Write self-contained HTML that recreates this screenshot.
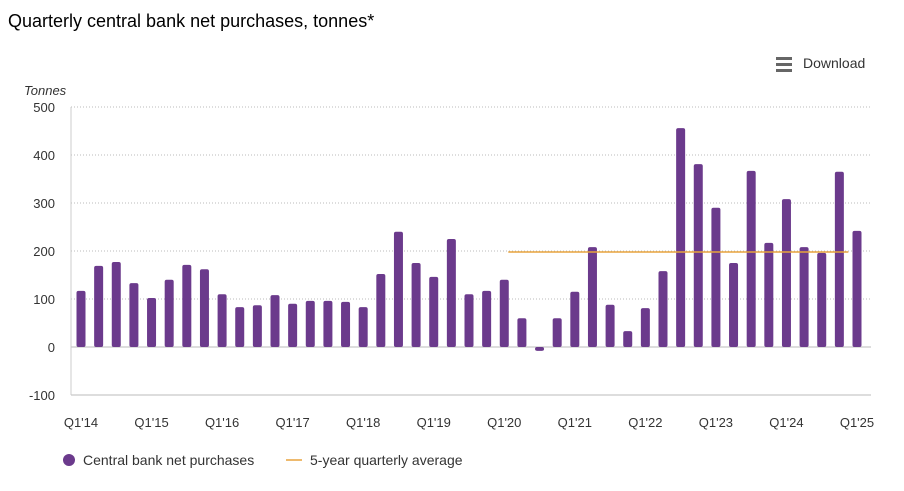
<!DOCTYPE html>
<html><head><meta charset="utf-8"><style>
body{margin:0;background:#fff;font-family:"Liberation Sans",Arial,sans-serif;}
svg text{font-family:"Liberation Sans",Arial,sans-serif;}
</style></head><body>
<svg id="chart" width="904" height="486">
<text x="8" y="27" font-size="18" fill="#000">Quarterly central bank net purchases, tonnes*</text>
<g>
<rect x="776" y="57" width="16" height="3" fill="#666"/><rect x="776" y="63" width="16" height="3" fill="#666"/><rect x="776" y="69" width="16" height="3" fill="#666"/>
<text x="803" y="68" font-size="14" fill="#333">Download</text></g>
<text x="24" y="95" font-size="13" font-style="italic" fill="#333">Tonnes</text>
<g id="grid"></g><g id="bars"></g><g id="avg"></g><g id="xlab"></g>
<g>
<circle cx="69" cy="460" r="6" fill="#6b3a8c"/>
<text x="83" y="465" font-size="14" fill="#333">Central bank net purchases</text>
<line x1="286" y1="460" x2="302" y2="460" stroke="#e8a33d" stroke-width="1.5"/>
<text x="310" y="465" font-size="14" fill="#333">5-year quarterly average</text>
</g>
</svg>
<script>
const values=[117,169,177,133,102,140,171,162,110,83,87,108,90,96,96,94,83,152,240,175,146,225,110,117,140,60,-8,60,115,208,88,33,81,158,456,381,290,175,367,217,308,208,196,365,242];
const yTicks=[-100,0,100,200,300,400,500];
const xLabels=["Q1'14","Q1'15","Q1'16","Q1'17","Q1'18","Q1'19","Q1'20","Q1'21","Q1'22","Q1'23","Q1'24","Q1'25"];
const avgValue=198;
const avgStart=24, avgEnd=43;
const NS="http://www.w3.org/2000/svg";
const y=v=>347-v*0.48;
const x=i=>81+i*(857-81)/44;
function mk(t,a,p){const e=document.createElementNS(NS,t);for(const k in a)e.setAttribute(k,a[k]);p.appendChild(e);return e;}
const grid=document.getElementById('grid');
yTicks.forEach(v=>{
 const l=mk('line',{x1:71,x2:871,y1:y(v),y2:y(v),stroke:v===0?'#bbb':'#bbb','stroke-dasharray':v===0||v===-100?'':'1,2'},grid);
 
 
 const t=mk('text',{x:55,y:y(v)+5,'font-size':13,fill:'#333','text-anchor':'end'},grid);
 t.textContent=v;
 
 
});
const ax=mk('line',{x1:71,x2:71,y1:y(500),y2:y(-100),stroke:'#ccc'},grid);


const bars=document.getElementById('bars');
values.forEach((v,i)=>{
 const top=Math.min(y(v),y(0)),h=Math.abs(y(v)-y(0));
 const r=mk('rect',{x:x(i)-4.5,y:top,width:9,height:Math.max(h,1),rx:2,fill:'#6b3a8c'},bars);
 
 
});
const ag=document.getElementById('avg');
const al=mk('line',{x1:x(avgStart)+4,x2:x(avgEnd)+9,y1:y(avgValue),y2:y(avgValue),stroke:'#e8a33d','stroke-width':1.5},ag);


const xl=document.getElementById('xlab');
xLabels.forEach((s,k)=>{
 const t=mk('text',{x:x(k*4),y:427,'font-size':13,fill:'#333','text-anchor':'middle'},xl);
 t.textContent=s;
 
 
});
</script>
</body></html>
